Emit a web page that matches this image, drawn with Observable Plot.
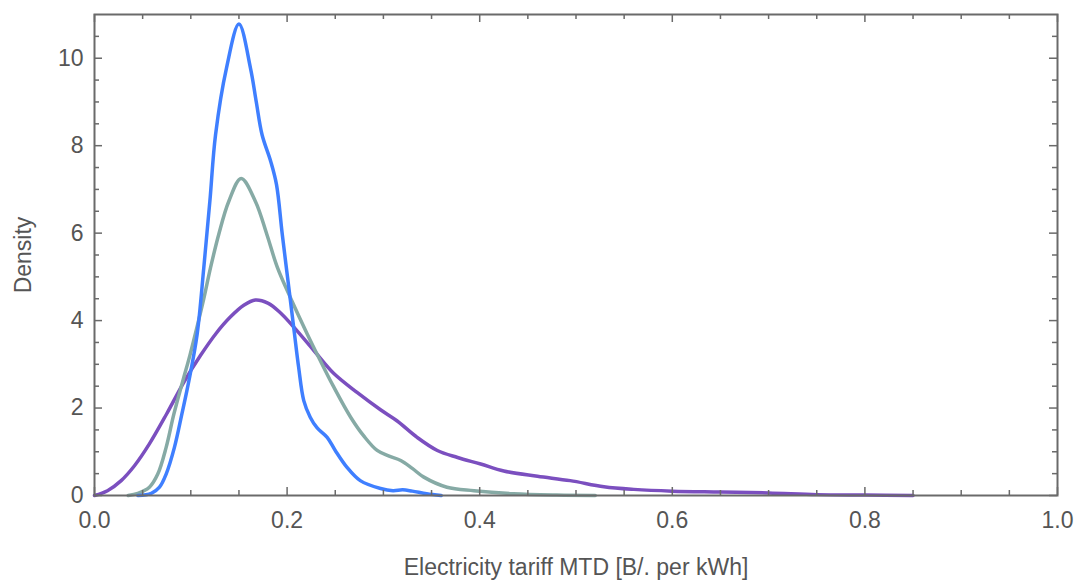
<!DOCTYPE html>
<html>
<head>
<meta charset="utf-8">
<script src="https://cdn.jsdelivr.net/npm/d3@7"></script>
<script src="https://cdn.jsdelivr.net/npm/@observablehq/plot@0.6"></script>
<style>
  html, body { margin: 0; padding: 0; background: #fff; }
  #chart { width: 1080px; height: 582px; }
</style>
</head>
<body>
<div id="chart"></div>
<script>
// Series: tariff values (x) and density (y)
const blueX = [0.045, 0.059, 0.0675, 0.0744, 0.083, 0.0907, 0.098, 0.1066, 0.1135, 0.1198, 0.1257, 0.137, 0.150, 0.162, 0.168, 0.174, 0.183, 0.189, 0.195, 0.2035, 0.2077, 0.212, 0.2173, 0.224, 0.231, 0.2416, 0.25, 0.262, 0.276, 0.297, 0.31, 0.32, 0.33, 0.345, 0.36];
const blueY = [0, 0.05, 0.19, 0.49, 1.1, 1.86, 2.62, 3.69, 5.21, 6.73, 8.25, 9.77, 10.78, 9.77, 9.0, 8.25, 7.64, 7.11, 5.97, 4.45, 3.69, 2.93, 2.17, 1.79, 1.55, 1.33, 1.03, 0.65, 0.34, 0.16, 0.11, 0.13, 0.1, 0.04, 0];

const tealX = [0.035, 0.045, 0.057, 0.0657, 0.0744, 0.0824, 0.0917, 0.099, 0.107, 0.1135, 0.1205, 0.129, 0.1395, 0.1523, 0.167, 0.179, 0.19, 0.205, 0.221, 0.233, 0.248, 0.266, 0.28, 0.2935, 0.306, 0.318, 0.33, 0.342, 0.366, 0.394, 0.435, 0.48, 0.52];
const tealY = [0, 0.05, 0.19, 0.49, 1.1, 1.86, 2.62, 3.2, 3.9, 4.5, 5.21, 5.97, 6.73, 7.25, 6.73, 5.97, 5.21, 4.45, 3.69, 3.15, 2.5, 1.79, 1.35, 1.03, 0.9, 0.8, 0.62, 0.42, 0.19, 0.11, 0.04, 0.01, 0];

const purpleX = [0, 0.0135, 0.0277, 0.0415, 0.057, 0.075, 0.093, 0.11, 0.126, 0.141, 0.155, 0.167, 0.18, 0.193, 0.207, 0.228, 0.248, 0.273, 0.297, 0.314, 0.335, 0.356, 0.377, 0.401, 0.425, 0.46, 0.494, 0.529, 0.56, 0.6, 0.65, 0.7, 0.75, 0.8, 0.85];
const purpleY = [0, 0.11, 0.34, 0.68, 1.18, 1.87, 2.6, 3.2, 3.7, 4.08, 4.35, 4.47, 4.4, 4.18, 3.85, 3.31, 2.8, 2.35, 1.96, 1.71, 1.33, 1.03, 0.87, 0.72, 0.56, 0.44, 0.34, 0.2, 0.14, 0.1, 0.08, 0.06, 0.02, 0.01, 0];

// Ticks
const xMajor = [0, 0.2, 0.4, 0.6, 0.8, 1.0];
const xMinor = [0.05, 0.1, 0.15, 0.25, 0.3, 0.35, 0.45, 0.5, 0.55, 0.65, 0.7, 0.75, 0.85, 0.9, 0.95];
const yMajor = [0, 2, 4, 6, 8, 10];
const yMinor = [0.5, 1, 1.5, 2.5, 3, 3.5, 4.5, 5, 5.5, 6.5, 7, 7.5, 8.5, 9, 9.5, 10.5];

const series = [
  {name: "Purple", xs: purpleX, ys: purpleY, color: "#7b4fbf"},
  {name: "Teal", xs: tealX, ys: tealY, color: "#86aaa5"},
  {name: "Blue", xs: blueX, ys: blueY, color: "#3f7fff"}
];

const W = 1080, H = 582, mL = 94, mR = 23, mT = 14, mB = 87;
const pw = W - mL - mR, ph = H - mT - mB;
const majLen = 8, minLen = 5;
const frameColor = "#6a6a6a";

const lineMarks = series.map(s =>
  Plot.line(s.xs.map((x, i) => ({x, y: s.ys[i]})), {
    x: "x", y: "y", stroke: s.color, strokeWidth: 3.5, curve: "catmull-rom"
  })
);

const chart = Plot.plot({
  width: W, height: H,
  marginLeft: mL, marginRight: mR, marginTop: mT, marginBottom: mB,
  style: {fontFamily: "'Liberation Sans', Arial, sans-serif", fontSize: "23px", color: "#555", background: "#fff"},
  x: {domain: [0, 1], ticks: xMajor, tickFormat: d => d.toFixed(1), tickSize: 0, tickPadding: 16,
      label: "Electricity tariff MTD [B/. per kWh]", labelAnchor: "center", labelArrow: "none", labelOffset: 79},
  y: {domain: [0, 11], ticks: yMajor, tickFormat: d => String(d), tickSize: 0, tickPadding: 11,
      label: "Density", labelAnchor: "center", labelArrow: "none", labelOffset: 80},
  marks: [
    ...lineMarks,
    Plot.frame({stroke: frameColor, strokeWidth: 2}),
    // bottom ticks
    Plot.tickX(xMajor, {x: d => d, insetTop: ph - majLen, stroke: frameColor, strokeWidth: 1.5}),
    Plot.tickX(xMinor, {x: d => d, insetTop: ph - minLen, stroke: frameColor, strokeWidth: 1.5}),
    // top ticks
    Plot.tickX(xMajor, {x: d => d, insetBottom: ph - majLen, stroke: frameColor, strokeWidth: 1.5}),
    Plot.tickX(xMinor, {x: d => d, insetBottom: ph - minLen, stroke: frameColor, strokeWidth: 1.5}),
    // left ticks
    Plot.tickY(yMajor, {y: d => d, insetRight: pw - majLen, stroke: frameColor, strokeWidth: 1.5}),
    Plot.tickY(yMinor, {y: d => d, insetRight: pw - minLen, stroke: frameColor, strokeWidth: 1.5}),
    // right ticks
    Plot.tickY(yMajor, {y: d => d, insetLeft: pw - majLen, stroke: frameColor, strokeWidth: 1.5}),
    Plot.tickY(yMinor, {y: d => d, insetLeft: pw - minLen, stroke: frameColor, strokeWidth: 1.5})
  ]
});
document.getElementById("chart").appendChild(chart);
</script>
</body>
</html>
